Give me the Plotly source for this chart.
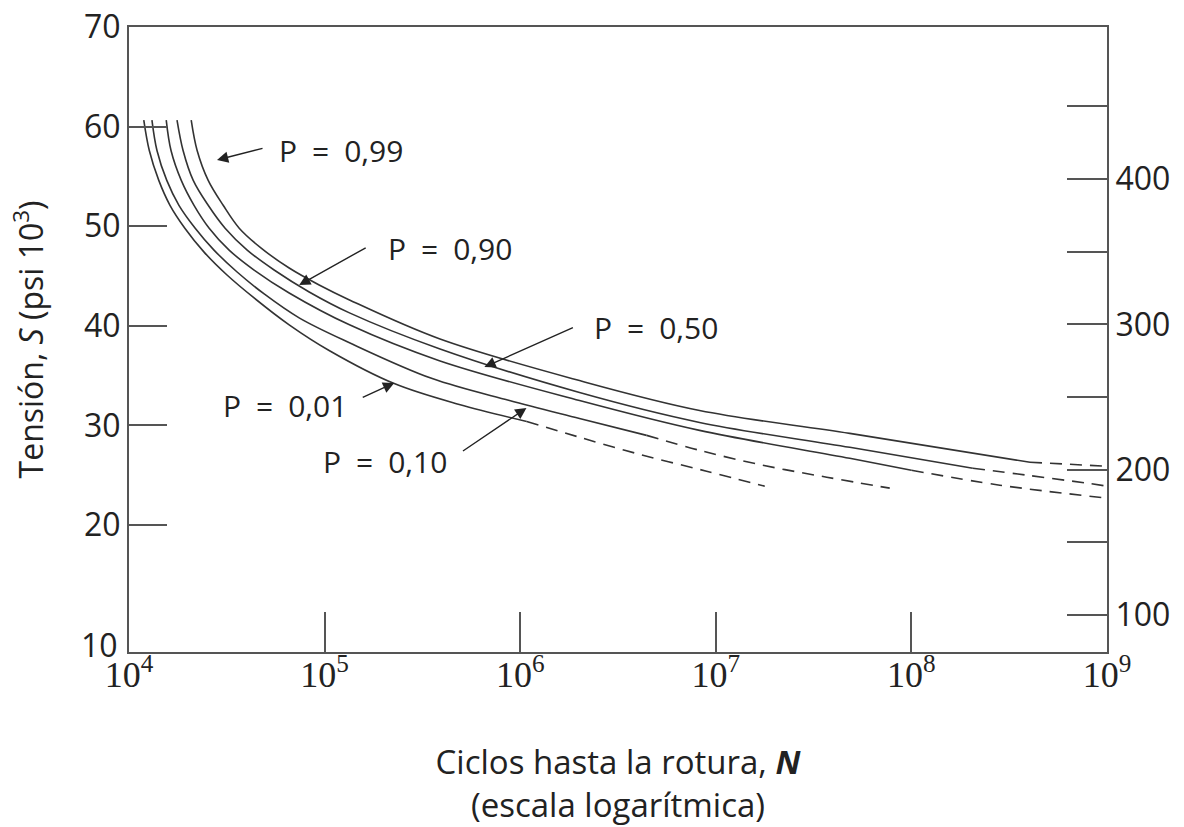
import plotly.graph_objects as go

# ---- data (N = cycles, S = stress in ksi) ----
N_P01 = [1.19e4, 1.27e4, 1.42e4, 1.62e4, 1.93e4, 2.42e4, 3.17e4, 4.36e4, 6.59e4,
         1.06e5, 2.27e5, 4.88e5, 1.08e6]
S_P01 = [60.65, 57.6, 54.6, 52.1, 49.8, 47.4, 45.1, 42.8, 40.1,
         37.5, 34.2, 32.1, 30.4]
N_P01_EXT = [1.08e6, 1.94e6, 4.07e6, 8.97e6, 1.78e7]
S_P01_EXT = [30.4, 28.9, 27.1, 25.4, 23.9]

N_P10 = [1.31e4, 1.39e4, 1.56e4, 1.80e4, 2.18e4, 2.72e4, 3.57e4, 4.91e4, 7.41e4,
         1.34e5, 3.55e5, 8.81e5, 2.01e6, 4.43e6]
S_P10 = [60.65, 57.6, 54.6, 52.1, 49.8, 47.6, 45.4, 43.2, 40.8,
         38.3, 34.7, 32.5, 30.7, 29.0]
N_P10_EXT = [4.43e6, 8.26e6, 1.74e7, 3.69e7, 7.75e7]
S_P10_EXT = [29.0, 27.5, 26.0, 24.8, 23.7]

N_P50 = [1.55e4, 1.64e4, 1.85e4, 2.15e4, 2.57e4, 3.25e4, 4.36e4, 6.59e4, 1.34e5,
         3.86e5, 2.01e6, 8.26e6, 4.84e7, 1.00e8]
S_P50 = [60.65, 57.6, 54.6, 52.1, 49.8, 47.6, 45.6, 43.3, 40.1,
         36.5, 32.5, 29.5, 26.7, 25.5]
N_P50_EXT = [1.00e8, 2.83e8, 1.0e9]
S_P50_EXT = [25.5, 24.0, 22.7]

N_P90 = [1.76e4, 1.89e4, 2.13e4, 2.54e4, 3.10e4, 4.02e4, 5.52e4, 8.34e4, 1.34e5,
         3.86e5, 2.01e6, 8.26e6, 4.84e7, 2.06e8]
S_P90 = [60.65, 57.6, 54.6, 52.1, 49.8, 47.6, 45.6, 43.4, 41.3,
         37.7, 33.3, 30.3, 27.8, 25.7]
N_P90_EXT = [2.06e8, 3.90e8, 7.91e8, 1.0e9]
S_P90_EXT = [25.7, 25.0, 24.2, 23.9]

N_P99 = [2.08e4, 2.23e4, 2.54e4, 3.03e4, 3.66e4, 4.74e4, 6.59e4, 9.38e4, 1.34e5,
         3.86e5, 2.01e6, 8.26e6, 4.84e7, 4.04e8]
S_P99 = [60.65, 57.6, 54.6, 52.1, 49.8, 47.8, 45.8, 44.1, 42.6,
         38.7, 34.5, 31.5, 29.2, 26.3]
N_P99_EXT = [4.04e8, 1.0e9]
S_P99_EXT = [26.3, 25.9]

X_TICKS = [1e4, 1e5, 1e6, 1e7, 1e8, 1e9]
X_TICK_TEXT = ["10<sup>4</sup>", "10<sup>5</sup>", "10<sup>6</sup>",
               "10<sup>7</sup>", "10<sup>8</sup>", "10<sup>9</sup>"]
Y_TICKS = [20, 30, 40, 50, 60, 70]
Y2_TICKS = [100, 200, 300, 400]
Y2_MINOR = [150, 250, 350, 450]

CURVE_LABELS = ["P\u2002=\u20020,99", "P\u2002=\u20020,90", "P\u2002=\u20020,50",
                "P\u2002=\u20020,01", "P\u2002=\u20020,10"]

LINE_COLOR = "#333333"
AX_COLOR = "#555555"
TEXT_COLOR = "#222222"
FONT = "'Open Sans', 'Noto Sans', sans-serif"

fig = go.Figure()

solid = [(N_P01, S_P01), (N_P10, S_P10), (N_P50, S_P50), (N_P90, S_P90), (N_P99, S_P99)]
dashed = [(N_P01_EXT, S_P01_EXT), (N_P10_EXT, S_P10_EXT), (N_P50_EXT, S_P50_EXT),
          (N_P90_EXT, S_P90_EXT), (N_P99_EXT, S_P99_EXT)]

for n, s in solid:
    fig.add_trace(go.Scatter(x=n, y=s, mode="lines",
                             line=dict(color=LINE_COLOR, width=1.6, shape="spline", smoothing=1.0),
                             hoverinfo="skip"))
for n, s in dashed:
    fig.add_trace(go.Scatter(x=n, y=s, mode="lines",
                             line=dict(color=LINE_COLOR, width=1.6, dash="12px,8px",
                                       shape="spline", smoothing=1.0),
                             hoverinfo="skip"))

# invisible trace so the right-hand (MPa) axis is drawn
fig.add_trace(go.Scatter(x=[1e4], y=[100], yaxis="y2", mode="markers",
                         marker=dict(opacity=0), hoverinfo="skip"))

fig.update_layout(
    width=1184, height=827,
    margin=dict(l=129, r=77, t=27, b=175, autoexpand=False),
    plot_bgcolor="white", paper_bgcolor="white",
    showlegend=False,
    font=dict(family=FONT, size=32, color=TEXT_COLOR),
    xaxis=dict(
        type="log", range=[4, 9],
        tickmode="array", tickvals=X_TICKS, ticktext=X_TICK_TEXT,
        ticks="inside", ticklen=40, tickwidth=1.5, tickcolor=AX_COLOR,
        showline=True, linecolor=AX_COLOR, linewidth=2, mirror=True,
        showgrid=False, zeroline=False, automargin=False,
        ticklabelstandoff=-10, ticklabeloverflow="allow",
        tickfont=dict(family="'Liberation Serif', serif", size=36, color=TEXT_COLOR),
        title=dict(text="Ciclos hasta la rotura, <b><i>N</i></b><br>(escala logarítmica)",
                   font=dict(size=33), standoff=60),
    ),
    yaxis=dict(
        range=[7.25, 70],
        tickmode="array", tickvals=Y_TICKS,
        ticks="inside", ticklen=38, tickwidth=1.5, tickcolor=AX_COLOR,
        showline=True, linecolor=AX_COLOR, linewidth=2,
        showgrid=False, zeroline=False, automargin=False,
        ticklabeloverflow="allow",
        tickfont=dict(size=32),
        title=dict(text="Tensión, <i>S</i> (psi 10<sup>3</sup>)", font=dict(size=32), standoff=31),
    ),
    yaxis2=dict(
        overlaying="y", side="right", range=[74.5, 504.6],
        tickmode="array", tickvals=Y2_TICKS,
        ticks="inside", ticklen=40, tickwidth=1.5, tickcolor=AX_COLOR,
        minor=dict(tickvals=Y2_MINOR, ticks="inside", ticklen=40, tickwidth=1.5, tickcolor=AX_COLOR),
        showline=True, linecolor=AX_COLOR, linewidth=2,
        showgrid=False, zeroline=False, automargin=False,
        ticklabeloverflow="allow",
        tickfont=dict(size=32),
    ),
)

# corner label "10" at the bottom of the left scale
fig.add_annotation(xref="paper", yref="paper", x=0, y=0, text="10", showarrow=False,
                   xanchor="right", yanchor="middle", xshift=-9, yshift=8,
                   font=dict(size=32))

# curve labels (paper coords) and arrows (data coords, log10 for x)
label_pos = [(0.217, 0.803), (0.3286, 0.6464), (0.5384, 0.52), (0.1597, 0.3952), (0.262, 0.304)]
arrow_tips = [(4.450, 56.65), (4.870, 44.1), (5.817, 35.86), (5.356, 34.26), (6.032, 31.75)]
arrow_tail = [(47, -12), (68, -38), (90, -40), (-33, 15), (-65, 44)]

for txt, (px, py) in zip(CURVE_LABELS, label_pos):
    fig.add_annotation(xref="paper", yref="paper", x=px, y=py, text=txt, showarrow=False,
                       xanchor="center", yanchor="middle", font=dict(size=30))
for (tx, ty), (ax, ay) in zip(arrow_tips, arrow_tail):
    fig.add_annotation(x=tx, y=ty, xref="x", yref="y", text="", showarrow=True,
                       ax=ax, ay=ay, arrowhead=2, arrowsize=1.6, arrowwidth=1.4,
                       arrowcolor=TEXT_COLOR, standoff=0)

# remove the browser's default 8px body margin so the figure fills the window exactly
fig.write_html("out.html", config={"displayModeBar": False},
               post_script="document.body.style.margin='0px';document.body.style.overflow='hidden';")
